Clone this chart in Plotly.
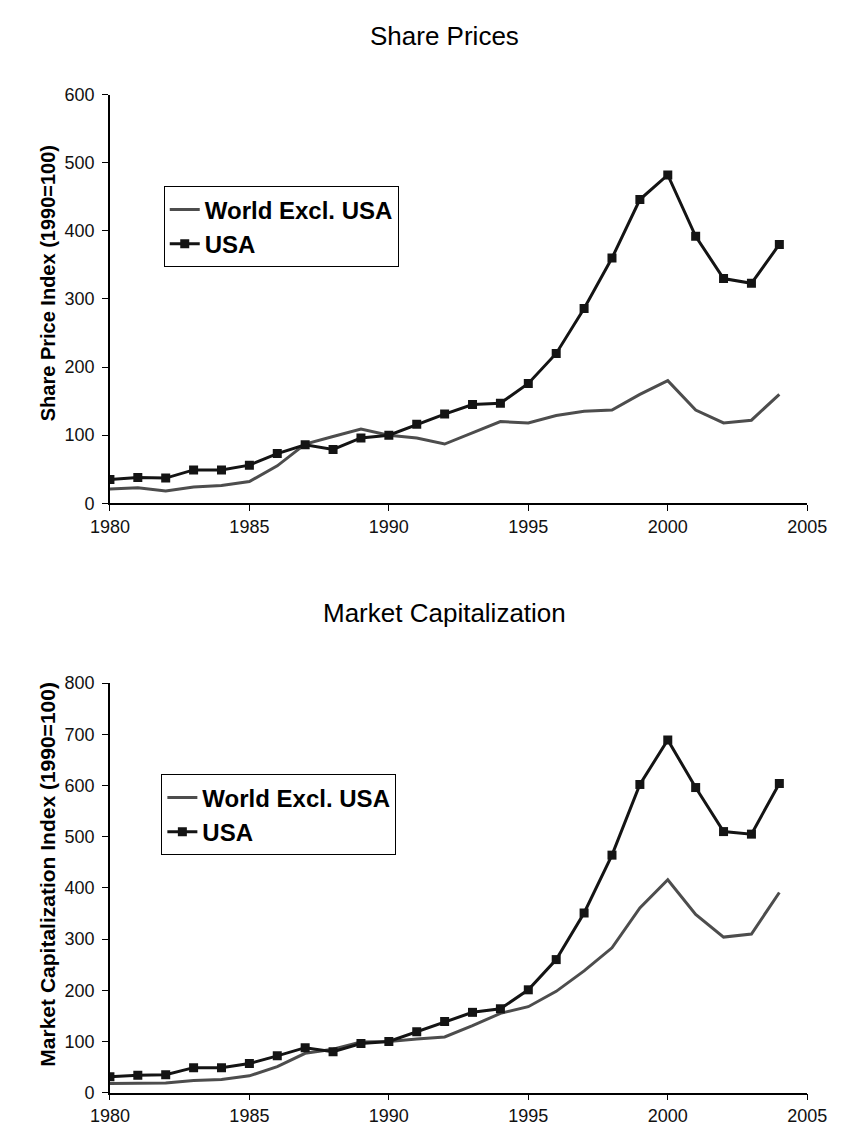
import plotly.graph_objects as go

years = list(range(1980, 2005))

share_world = [21, 23, 18, 24, 26, 32, 55, 87, 98, 109, 100, 96, 87, 103, 120, 118, 129, 135, 137, 160, 180, 137, 118, 122, 160]
share_usa = [35, 38, 37, 49, 49, 56, 73, 86, 79, 96, 100, 116, 131, 145, 147, 176, 220, 286, 360, 446, 482, 392, 330, 323, 380]

cap_world = [18, 19, 19, 24, 26, 33, 51, 77, 85, 99, 100, 105, 109, 131, 155, 168, 198, 238, 283, 361, 416, 348, 304, 310, 391]
cap_usa = [31, 34, 35, 49, 49, 57, 72, 88, 80, 96, 100, 119, 139, 157, 164, 201, 260, 351, 464, 602, 689, 596, 510, 505, 604]

series_names = ["World Excl. USA", "USA"]
x_ticks = [1980, 1985, 1990, 1995, 2000, 2005]
titles = ["Share Prices", "Market Capitalization"]
y_titles = ["Share Price Index (1990=100)", "Market Capitalization Index (1990=100)"]

W, H = 844, 1136
FONT = "Liberation Sans, Arial, sans-serif"
GRAY = "#4d4d4d"
BLACK = "#141414"

def py(px):
    return 1 - px / H

fig = go.Figure()

# top chart
fig.add_trace(go.Scatter(x=years, y=share_world, mode="lines", name=series_names[0],
                         line=dict(color=GRAY, width=3), xaxis="x", yaxis="y", legend="legend"))
fig.add_trace(go.Scatter(x=years, y=share_usa, mode="lines+markers", name=series_names[1],
                         line=dict(color=BLACK, width=3),
                         marker=dict(symbol="square", size=9, color=BLACK),
                         xaxis="x", yaxis="y", legend="legend"))
# bottom chart
fig.add_trace(go.Scatter(x=years, y=cap_world, mode="lines", name=series_names[0],
                         line=dict(color=GRAY, width=3), xaxis="x2", yaxis="y2", legend="legend2"))
fig.add_trace(go.Scatter(x=years, y=cap_usa, mode="lines+markers", name=series_names[1],
                         line=dict(color=BLACK, width=3),
                         marker=dict(symbol="square", size=9, color=BLACK),
                         xaxis="x2", yaxis="y2", legend="legend2"))

xd = [86 / W, 818 / W]

axis_common = dict(showgrid=False, zeroline=False, showline=True, linecolor="black", linewidth=1.5,
                   ticks="outside", ticklen=6, tickcolor="black", tickwidth=1.3,
                   tickfont=dict(family=FONT, size=18, color="#111"))

legend_common = dict(bordercolor="black", borderwidth=1, bgcolor="white",
                     font=dict(family=FONT, size=24, color="black", weight="bold"),
                     xanchor="left", yanchor="top", itemwidth=30, tracegroupgap=0)

fig.update_layout(
    width=W, height=H,
    margin=dict(l=0, r=0, t=0, b=0),
    paper_bgcolor="white", plot_bgcolor="white",
    xaxis=dict(domain=xd, range=[1980, 2005], tickvals=x_ticks, anchor="y", **axis_common),
    yaxis=dict(domain=[py(494), py(78)], range=[0, 600], dtick=100, anchor="x",
               ticklabelstandoff=4, **axis_common),
    xaxis2=dict(domain=xd, range=[1980, 2005], tickvals=x_ticks, anchor="y2", **axis_common),
    yaxis2=dict(domain=[py(1094), py(677)], range=[0, 800], dtick=100, anchor="x2",
                ticklabelstandoff=4, **axis_common),
    legend=dict(x=142.5 / W, y=py(171.5), **legend_common),
    legend2=dict(x=140 / W, y=py(770), **legend_common),
    showlegend=True,
)

annotations = [
    dict(text=titles[0], x=437 / W, y=py(18), xref="paper", yref="paper", showarrow=False,
         font=dict(family=FONT, size=26, color="black"), xanchor="center", yanchor="middle"),
    dict(text=titles[1], x=437 / W, y=py(606), xref="paper", yref="paper", showarrow=False,
         font=dict(family=FONT, size=26, color="black"), xanchor="center", yanchor="middle"),
    dict(text="<b>" + y_titles[0] + "</b>", x=21 / W, y=py(270), xref="paper", yref="paper",
         showarrow=False, textangle=-90, font=dict(family=FONT, size=20, color="black"),
         xanchor="center", yanchor="middle"),
    dict(text="<b>" + y_titles[1] + "</b>", x=21 / W, y=py(872), xref="paper", yref="paper",
         showarrow=False, textangle=-90, font=dict(family=FONT, size=21, color="black"),
         xanchor="center", yanchor="middle"),
]
fig.update_layout(annotations=annotations)

fig.write_html("out.html")
